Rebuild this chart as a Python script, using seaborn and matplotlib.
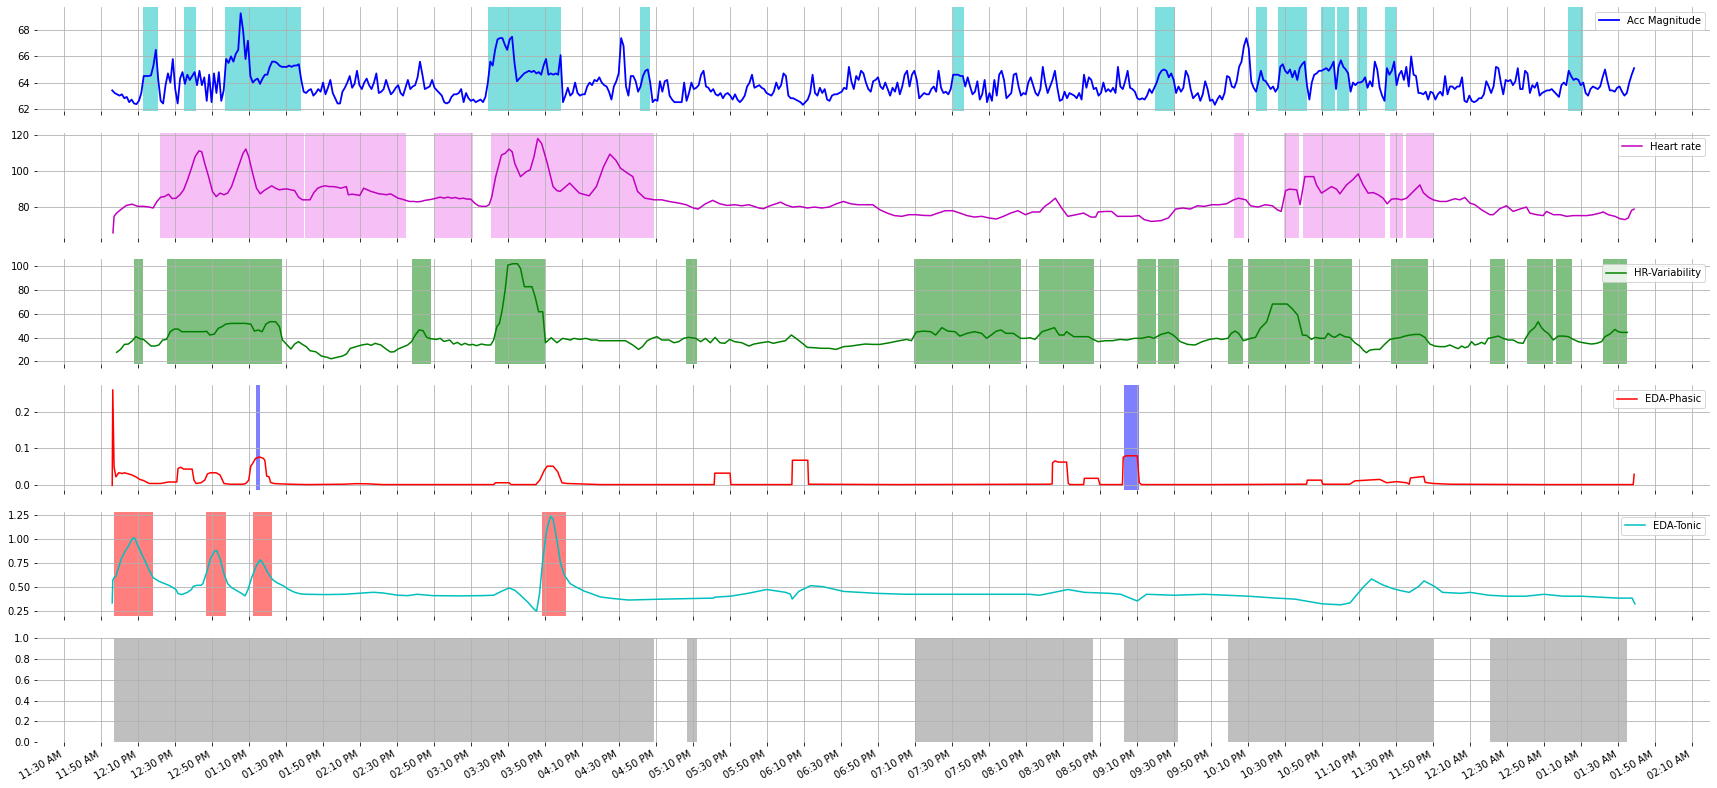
import numpy as np
import pandas as pd
import matplotlib
matplotlib.use("Agg")
import matplotlib.pyplot as plt
import matplotlib.dates as mdates
import seaborn as sns

# ---------------- data (time = minutes after 11:30 AM) ----------------
BASE = pd.Timestamp("2021-01-01 11:30:00")

# Acc magnitude: regularly sampled, start minute and sampling step (minutes)
ACC_START_MIN = 25.9
ACC_STEP_MIN = 1.31
ACC_VAL = [
    63.4, 63.2, 63.1, 63.0, 63.1, 62.8, 62.9, 62.5, 62.7, 62.4,
    62.35, 62.6, 63.2, 64.5, 64.5, 64.5, 64.55, 65.3, 66.5, 64.2,
    62.6, 62.4, 63.8, 64.7, 64.0, 65.8, 63.5, 62.4, 64.3, 64.8,
    63.9, 64.6, 64.2, 64.5, 64.8, 63.8, 64.9, 63.8, 64.4, 62.6,
    64.6, 62.5, 64.7, 63.2, 64.8, 62.6, 63.4, 65.8, 65.5, 66.0,
    65.6, 66.2, 66.5, 69.3, 68.0, 65.8, 67.2, 64.5, 64.0, 64.2,
    64.3, 63.9, 64.3, 64.6, 64.6, 65.2, 65.6, 65.6, 65.5, 65.3,
    65.2, 65.2, 65.2, 65.3, 65.2, 65.3, 65.3, 65.4, 64.2, 63.3,
    63.2, 63.4, 63.5, 63.0, 63.2, 63.5, 63.3, 64.0, 63.1, 63.6,
    64.2, 63.2, 62.8, 62.4, 62.4, 63.3, 63.6, 64.0, 64.5, 63.6,
    63.9, 64.9, 63.8, 63.5, 64.0, 64.3, 63.8, 63.5, 64.0, 64.7,
    63.2, 63.3, 63.5, 64.2, 63.6, 63.1, 63.3, 63.6, 63.8, 63.2,
    63.0, 63.6, 64.2, 63.5, 63.7, 63.8, 64.4, 65.6, 64.6, 63.5,
    63.6, 63.7, 64.2, 63.6, 63.4, 63.2, 63.0, 62.5, 62.4, 62.5,
    62.9, 63.1, 63.1, 63.2, 63.5, 62.5, 63.2, 62.8, 62.6, 62.7,
    62.5, 62.6, 62.7, 62.5, 62.9, 64.0, 65.6, 65.3, 66.5, 67.3,
    67.4, 67.4, 66.9, 66.5, 67.3, 67.5, 65.5, 64.1, 64.3, 64.5,
    64.7, 64.8, 64.9, 64.8, 64.9, 64.7, 64.8, 64.6, 65.3, 65.8,
    64.6, 64.7, 64.6, 64.7, 64.6, 66.1,
    62.5, 63.0, 63.6, 63.0, 63.2, 64.0, 63.2, 63.0, 63.1, 63.1,
    63.7, 64.0, 63.8, 64.2, 64.1, 64.4, 64.0, 63.8, 63.7, 63.3,
    62.7, 63.7, 64.1, 64.7, 67.4, 66.8, 63.7, 63.0, 64.5, 64.5,
    64.1, 63.3, 63.7, 64.5, 64.9, 65.0, 64.0, 62.5, 62.7, 62.6,
    64.1, 63.3, 64.1, 64.2, 63.0, 62.7, 62.5, 62.5, 62.5, 62.5,
    64.0, 62.6, 63.2, 64.0, 63.5, 63.6, 63.8, 64.6, 64.9, 63.7,
    63.6, 63.3, 63.5, 63.1, 63.0, 63.2, 62.8, 63.1, 63.2, 63.0,
    62.7, 63.1, 62.7, 62.5, 62.7, 63.0, 63.7, 64.0, 64.6, 63.6,
    63.7, 63.8, 63.6, 63.5, 63.2, 63.1, 63.0, 63.3, 64.0, 63.5,
    63.8, 64.7, 64.5, 63.0, 62.8, 62.8, 62.7, 62.6, 62.5, 62.3,
    62.5, 62.7, 63.2, 64.6, 63.2, 63.0, 63.6, 63.2, 63.5, 62.7,
    62.6, 63.0, 63.1, 63.1, 63.2, 63.3, 63.6, 63.5, 65.2, 64.1,
    63.5, 64.5, 64.2, 64.9, 64.7, 64.0, 63.5, 63.3, 64.1, 64.2,
    64.4, 63.7, 63.5, 64.0, 63.5, 63.0, 63.6, 63.3, 64.0, 63.1,
    63.7, 64.6, 64.9, 63.7, 64.6, 64.9, 64.2, 62.8, 63.0, 63.2,
    63.1, 63.1, 63.5, 63.7, 63.3, 64.9, 63.6, 63.2, 63.3, 63.1,
    63.5, 64.6, 64.6, 64.6, 64.5, 64.5, 63.7, 64.4, 63.7, 63.1,
    63.3, 64.1, 62.7, 63.1, 64.2, 62.5, 63.2, 62.6, 64.2, 63.0,
    64.6, 64.9, 64.2, 62.8, 63.0, 63.2, 64.6, 64.7, 63.7, 63.0,
    63.2, 63.1, 64.0, 64.4, 63.8, 63.2, 63.0, 63.5, 65.2, 64.0,
    63.2, 63.7, 64.2, 64.9, 63.6, 62.6, 62.7, 63.3, 62.8, 63.2,
    63.1, 63.0, 62.8, 63.2, 62.7, 64.6, 63.6, 64.4, 64.2, 63.5,
    63.6, 63.0, 63.2, 64.0, 63.3, 63.5, 63.3, 63.6, 63.2, 65.2,
    63.7, 63.5, 64.1, 64.9, 63.6, 63.5, 63.3, 62.8, 62.7, 62.8,
    62.7, 63.0, 63.5, 63.2, 63.6, 64.0, 64.6, 64.9, 65.0, 64.9,
    64.4, 64.7, 64.2, 63.2, 63.7, 63.3, 63.6, 64.9, 64.5, 63.5,
    62.8, 63.0, 63.2, 62.6, 63.1, 64.1, 63.5, 62.6, 62.7, 62.3,
    62.7, 63.0, 62.7, 63.2, 64.5, 64.4, 63.7, 63.6, 64.1, 65.2,
    65.6, 66.8, 67.4, 66.6, 64.1, 63.6, 63.3, 64.1, 64.9, 64.2,
    64.1, 63.8, 63.5, 63.7, 63.3, 63.6, 65.2, 65.4, 64.9, 64.7,
    65.0, 64.4, 64.9, 64.2, 65.1, 65.4, 65.6, 63.8, 62.7, 64.0,
    64.6, 64.7, 64.9,
    64.9, 65.0, 65.1, 64.9, 65.2, 65.6, 63.5, 65.2, 65.7, 65.2,
    65.0, 64.7, 63.3, 64.0, 63.8, 64.0, 64.0, 64.1, 64.4, 63.6,
    64.1, 63.7, 65.6, 65.0, 63.6, 63.0, 62.6, 65.1, 64.6, 64.9,
    65.6, 63.8, 64.6, 64.9, 64.2, 65.2, 63.7, 66.0, 64.6, 64.5,
    63.2, 63.2, 63.1, 63.3, 62.7, 63.3, 63.2, 62.7, 63.1, 63.3,
    63.0, 64.5, 63.1, 63.7, 63.7, 63.5, 63.7, 63.7, 64.4, 62.6,
    62.5, 63.0, 62.6, 62.5, 62.6, 62.8, 62.8, 63.1, 64.1, 63.7,
    63.2, 63.7, 65.2, 65.1, 64.0, 63.1, 64.2, 64.1, 64.2, 63.8,
    64.1, 65.1, 63.5, 63.5, 64.9, 64.7, 63.2, 63.8, 63.6, 64.0,
    63.0, 63.2, 63.3, 63.4, 63.4, 63.5, 63.3, 63.1, 62.9, 63.8,
    64.0, 63.8, 64.9, 64.5, 64.2, 64.3, 64.2, 63.8, 64.0, 63.2,
    63.0, 63.5, 63.7, 63.6, 63.5, 63.7, 64.4, 65.0, 64.1, 63.4,
    63.4, 63.3, 63.6, 63.7, 63.3, 63.0, 63.2, 64.0, 64.6, 65.1,
]

HR_MIN = [
    26.3, 26.9, 28.3, 30.4, 33.5, 36.6, 39.7, 42.8, 45.9, 48.0, 50.1, 52.1, 54.2, 56.3, 58.3,
    60.4, 62.5, 64.5, 66.6, 68.7, 70.7, 72.8, 74.3, 75.9, 78.0, 80.1, 82.1, 84.2, 86.3, 88.3,
    90.4, 93.5, 96.6, 98.1, 99.7, 101.8, 103.9, 105.9, 108.0, 110.1, 112.1, 114.2, 116.3, 118.3,
    120.4, 122.5, 124.5, 126.6, 128.7, 130.8, 132.8, 134.9, 137.0, 139.0, 141.1, 143.2, 145.2,
    147.3, 149.4, 151.4, 152.5, 153.5, 155.6, 157.7, 159.7, 161.8, 163.9, 165.9, 168.0, 170.1,
    172.1, 174.2, 176.3, 178.3, 180.4, 182.5, 184.6, 186.6, 188.7, 190.8, 192.8, 194.9, 197.0,
    199.0, 201.1, 203.2, 205.2, 207.3, 209.4, 211.4, 213.5, 215.6, 217.7, 219.7, 221.8, 223.9,
    225.9, 228.0, 229.7, 231.1, 233.2, 236.3, 238.3, 240.4, 242.1, 243.5, 246.6, 249.7, 251.8,
    253.9, 255.9, 258.0, 261.1, 264.2, 266.3,
    268.0, 273.2, 278.4, 283.7, 287.6, 291.5, 294.9, 298.1, 300.7, 304.6, 307.3, 309.9, 313.8,
    319.0, 323.0, 326.9, 332.1, 336.1, 340.0, 342.6, 346.6, 350.5, 354.4, 358.3, 362.3, 366.2,
    370.1, 372.8, 375.4, 378.0, 380.6, 383.2, 387.2, 389.8, 393.7, 397.6, 401.6, 405.5, 409.4,
    413.4, 417.3, 421.2, 425.2, 429.1, 433.0, 437.0, 440.9, 444.8, 448.7, 452.7, 456.6, 460.5,
    464.5, 468.4, 472.3, 476.2, 480.2, 484.1, 488.0, 492.0, 495.9, 499.8, 503.8, 507.7, 511.6,
    515.5, 519.5, 523.4, 527.3, 530.0, 532.6, 535.7, 539.1, 542.5, 547.0, 551.0, 554.9, 557.5,
    558.8, 562.7, 566.1, 569.3, 573.2, 577.1, 581.0, 583.7, 587.6, 592.8, 596.8, 600.7, 604.6,
    608.6, 612.5, 616.4, 620.3, 624.3, 628.2, 632.1, 634.8, 638.7, 641.3, 645.2, 649.2, 653.1,
    655.7, 657.8, 660.2, 662.3, 666.2, 668.0, 670.6, 675.4,
    676.9, 679.6, 682.3, 685.0, 687.7, 689.5, 693.1, 696.7, 699.4, 702.1, 704.8, 707.5, 710.2,
    712.9, 715.1, 717.5, 720.2, 722.9, 725.6, 729.2, 732.8, 734.6, 737.3, 740.0, 743.6, 747.2,
    751.7, 754.4, 757.1, 759.8, 762.5, 766.1, 770.6, 772.4, 776.0, 779.6, 783.2, 786.8, 790.4,
    792.2, 795.8, 799.4, 801.2, 804.9, 808.5, 812.1, 815.7, 819.3, 822.9, 826.5, 830.1, 831.9,
    834.6, 838.2, 840.9, 843.6, 845.4, 847.2, 848.6,
]
HR_VAL = [
    65.8, 74.9, 76.7, 78.5, 80.9, 81.6, 80.4, 80.4, 80.0, 79.5, 83.1, 85.5, 85.8, 87.1, 84.7,
    84.9, 86.8, 89.5, 95.0, 101.4, 107.8, 111.0, 110.5, 104.1, 96.8, 88.6, 85.8, 87.7, 86.8, 87.7,
    91.3, 100.5, 109.6, 112.0, 107.8, 98.6, 90.4, 87.3, 89.1, 90.4, 91.7, 90.4, 89.5, 89.9,
    90.0, 89.5, 89.1, 85.5, 84.0, 84.0, 84.0, 88.0, 90.4, 91.3, 91.7, 91.3, 91.3,
    91.0, 90.4, 91.0, 91.3, 86.8, 87.1, 86.8, 86.4, 90.4, 89.5, 88.6, 88.0, 87.3,
    87.1, 86.8, 87.3, 86.2, 84.9, 84.4, 83.7, 83.1, 83.1, 82.9, 83.1, 83.7, 84.0,
    84.4, 84.9, 85.5, 84.9, 85.5, 84.9, 85.3, 84.6, 84.9, 84.4, 84.4, 82.2, 80.7,
    80.4, 80.4, 81.3, 85.8, 96.8, 108.7, 109.6, 112.0, 110.5, 104.1, 96.8, 99.5, 100.5,
    107.8, 117.8, 115.1, 104.1, 91.3, 89.1,
    88.6, 93.2, 87.7, 86.2, 91.3, 102.3, 109.2, 105.9, 101.4, 98.6, 96.8, 88.6, 84.9,
    84.0, 84.0, 83.1, 82.2, 81.3, 79.5, 78.9, 81.8, 83.7, 81.8, 80.9, 81.3, 80.7,
    81.3, 80.4, 79.5, 79.1, 80.4, 81.3, 82.7, 81.3, 80.0, 80.4, 79.5, 80.0, 79.5,
    80.0, 81.8, 83.1, 81.8, 81.3, 81.3, 81.3, 78.5, 76.7, 75.3, 74.9, 75.8, 75.8,
    75.4, 75.3, 76.7, 78.0, 78.0, 76.7, 75.3, 74.5, 74.9, 74.0, 73.4, 74.9, 76.7,
    78.0, 75.8, 77.3, 77.3, 80.4, 82.2, 84.9, 79.5, 74.9, 75.8, 76.7, 74.5, 74.5,
    77.3, 77.6, 77.6, 74.9, 74.9, 74.9, 75.3, 73.1, 72.1, 72.5, 74.0, 78.9, 79.5,
    78.9, 80.7, 80.4, 81.3, 81.3, 81.8, 84.0, 84.9, 84.0, 80.7, 80.0, 81.3, 80.7,
    78.5, 77.6, 89.1, 89.9, 89.5, 81.3, 96.8, 96.8,
    92.2, 87.7, 89.5, 91.3, 89.9, 87.3, 92.2, 95.3, 98.3, 92.2, 87.7, 88.0, 86.8,
    84.9, 81.8, 84.4, 84.6, 84.0, 84.9, 88.6, 92.2, 88.0, 85.5, 84.0, 83.1, 83.1,
    84.6, 84.0, 85.3, 82.2, 81.3, 78.5, 75.8, 75.8, 79.1, 80.7, 77.6, 78.9, 80.0,
    76.7, 75.8, 75.3, 77.6, 75.8, 75.8, 74.9, 75.3, 75.3, 75.3, 75.8, 76.7, 77.3,
    75.8, 74.9, 73.6, 73.1, 74.0, 78.2, 78.9,
]

HRV_MIN = [
    28.3, 30.4, 32.5, 34.6, 36.6, 38.7, 40.8, 42.8, 44.9, 46.9, 49.0, 51.1, 53.2, 55.2, 57.3,
    59.4, 61.5, 63.5, 66.6, 70.7, 74.9, 77.0, 78.6, 81.1, 83.2, 85.2, 87.3, 90.4, 93.5, 97.7,
    100.8, 102.8, 104.9, 106.9, 109.0, 111.1, 114.2, 116.3, 117.9, 120.0, 122.5, 124.5, 126.6,
    128.7, 130.8, 132.8, 135.9, 139.0, 142.1, 144.2, 147.3, 150.4, 152.5, 154.6, 157.7, 160.8,
    163.9, 165.9, 168.0, 171.1, 174.2, 176.3, 178.3, 180.4, 183.5, 185.6, 187.7, 189.7, 191.8,
    193.9, 195.9, 198.0, 201.1, 203.2, 205.2, 208.3, 210.4, 212.5, 214.6, 216.6, 218.7, 220.8,
    222.8, 225.5, 228.0, 230.5, 232.1, 233.8, 235.2, 236.7, 238.3, 239.8, 242.5, 245.0, 246.6,
    248.7, 252.8, 254.5, 256.4, 258.6, 260.1, 263.2, 266.3, 269.4, 273.5, 275.6, 278.7, 281.8,
    284.9, 288.0,
    289.0, 294.2, 299.4, 303.3, 307.3, 310.4, 312.5, 315.1, 317.7, 320.4, 323.0, 326.9, 329.5,
    332.1, 334.8, 337.4, 341.3, 344.0, 346.6, 349.2, 351.8, 354.4, 357.0, 359.7, 362.3, 366.2,
    370.1, 372.8, 376.7, 380.6, 383.2, 387.2, 389.8, 393.0, 396.3, 399.0, 401.6, 405.5, 409.4,
    413.4, 417.3, 421.2, 425.2, 429.1, 433.0, 437.0, 440.9, 446.1, 451.4, 455.3, 457.9, 460.5,
    464.5, 468.4, 471.0, 474.4, 477.6, 481.5, 484.1, 488.0, 492.0, 495.9, 498.5, 501.1, 503.8,
    506.4, 509.0, 513.0, 516.9, 519.5, 522.1, 524.7, 528.6, 531.3, 535.2, 537.8, 540.4, 541.7,
    545.7, 549.6, 553.5, 556.2, 558.8, 562.7, 566.6, 570.6, 574.5, 578.4, 582.4, 586.3, 588.9,
    592.8, 596.8, 599.4, 603.3, 607.2, 611.2, 615.1, 619.0, 623.0, 625.6, 629.0, 630.8, 632.9,
    634.8, 637.4, 641.3, 643.9, 646.5, 650.0, 653.1, 661.0, 663.6, 666.7,
    669.3, 671.5, 674.2, 676.0, 678.7, 681.4, 683.2, 685.0, 686.8, 689.5, 692.2, 694.9, 697.6,
    700.3, 702.1, 703.9, 705.7, 708.4, 711.1, 713.9, 716.6, 719.3, 722.0, 724.7, 727.4, 730.1,
    732.8, 735.5, 738.2, 740.9, 743.6, 746.3, 749.0, 751.7, 753.5, 755.3, 757.1, 758.9, 760.7,
    762.5, 764.3, 766.1, 767.9, 769.7, 772.4, 775.1, 777.8, 780.5, 783.2, 785.9, 788.6, 790.4,
    792.2, 794.9, 796.7, 798.5, 800.3, 802.1, 804.9, 807.6, 810.3, 813.0, 815.7, 818.4, 821.1,
    822.9, 825.6, 828.3, 831.0, 832.8, 835.5, 838.2, 840.0, 841.8, 843.6, 844.9,
]
HRV_VAL = [
    27.6, 30.1, 34.3, 34.6, 37.1, 40.8, 39.1, 38.5, 35.7, 32.9, 32.9, 33.8, 38.0, 38.5, 45.0,
    47.2, 47.2, 45.0, 45.0, 45.0, 45.0, 45.3, 42.2, 43.0, 47.8, 49.2, 51.4, 52.0, 52.0, 52.0,
    51.4, 45.5, 46.4, 45.0, 51.4, 53.4, 53.4, 49.2, 38.0, 34.6, 30.4, 34.6, 36.6,
    34.3, 32.4, 29.0, 28.1, 24.5, 23.4, 22.2, 23.4, 24.5, 26.2, 30.9, 32.4, 33.8,
    34.6, 33.5, 35.2, 33.8, 30.1, 27.9, 28.1, 30.4, 32.4, 33.8, 36.6, 42.2, 46.4,
    45.9, 40.2, 39.1, 38.5, 39.4, 36.8, 38.0, 34.6, 36.0, 33.8, 35.2, 33.8, 34.3,
    33.2, 34.6, 33.8, 33.8, 38.0, 49.2, 52.0, 63.2, 80.1, 101.1, 102.2, 102.2, 98.3,
    82.9, 82.9, 74.5, 61.8, 61.8, 35.7, 39.9, 35.7, 39.4, 38.0, 39.4, 38.5, 39.4,
    38.0, 38.0,
    37.4, 37.4, 37.4, 37.4, 33.8, 30.1, 32.4, 37.4, 39.4, 40.8, 38.0, 38.0, 35.7,
    36.6, 39.4, 40.2, 39.4, 36.6, 39.4, 35.7, 40.2, 35.7, 35.2, 38.5, 36.6, 35.7,
    32.9, 34.6, 35.7, 36.6, 35.2, 36.6, 37.4, 42.2, 38.5, 35.2, 31.8, 31.5, 31.0,
    31.0, 30.1, 32.4, 32.9, 33.8, 34.6, 34.3, 34.3, 35.7, 37.4, 38.5, 37.4, 44.7,
    45.5, 45.0, 42.2, 48.4, 45.5, 45.0, 41.3, 43.6, 45.0, 43.6, 39.4, 42.2, 45.5,
    46.4, 43.6, 43.6, 39.4, 39.4, 39.9, 38.5, 45.0, 46.4, 48.4, 42.2, 42.2, 45.0,
    40.8, 40.8, 40.8, 38.5, 36.6, 37.4, 37.4, 38.5, 38.0, 39.4, 39.4, 40.8, 39.4,
    42.7, 44.4, 42.2, 36.6, 34.3, 33.8, 36.6, 38.5, 39.4, 38.5, 39.4, 43.6, 45.5,
    43.6, 37.4, 39.4, 40.2, 47.8, 53.4, 68.3, 68.3, 64.6, 59.0,
    42.2, 41.9, 38.5, 40.2, 39.4, 39.4, 43.6, 41.3, 40.2, 43.0, 40.8, 40.2, 35.7,
    32.9, 29.5, 27.3, 29.5, 30.1, 30.1, 34.6, 38.5, 39.4, 39.9, 41.3, 42.2, 42.7,
    42.7, 40.2, 34.6, 32.9, 32.4, 32.4, 33.8, 31.8, 30.7, 32.9, 31.5, 32.4, 36.6,
    33.8, 34.6, 36.0, 34.6, 39.4, 40.2, 41.3, 39.4, 38.0, 38.0, 35.7, 35.2, 40.8,
    45.0, 48.6, 53.4, 48.4, 45.5, 43.6, 38.0, 41.3, 41.3, 40.8, 38.5, 36.6, 35.7,
    35.2, 34.6, 35.2, 36.6, 40.8, 43.0, 46.9, 45.0, 44.4, 44.4, 44.4,
]

PHASIC_MIN = [
    25.9, 26.2, 26.9, 27.9, 29.4, 31.4, 32.5, 34.6, 36.6, 38.7, 40.8, 42.8, 45.9, 48.0, 52.1,
    55.2, 56.3, 60.8, 61.5, 62.9, 64.5, 69.1, 70.1, 71.2, 73.9, 75.9, 77.4, 79.0, 82.1, 84.2,
    86.3, 89.4, 96.6, 98.1, 99.7, 100.8, 101.8, 103.4, 105.5, 107.6, 108.4, 109.4, 110.7, 111.5,
    113.2, 116.3, 122.5, 130.8, 151.4, 157.7, 163.9, 172.1, 192.8, 213.5, 232.1, 233.2, 240.4,
    241.5, 254.9, 257.0, 259.5, 261.1, 264.2, 266.7, 269.0, 271.5, 277.7, 289.7,
    320.0, 351.3, 351.6, 359.9, 360.3, 393.3, 393.6, 401.9, 402.3, 450.0,
    532.8, 534.0, 534.2, 535.5, 537.3, 541.8, 542.7, 543.6, 551.0, 551.4, 558.9, 559.8, 572.0,
    572.4, 573.9, 580.0, 581.1, 582.4, 620.0, 667.9, 671.5, 671.9, 679.6, 680.2, 694.9, 697.6,
    703.9, 711.1, 714.8, 720.2, 725.6, 727.0, 727.7, 734.9, 735.6, 740.0, 749.0, 800.0, 848.1,
    848.6,
]
PHASIC_VAL = [
    0.0, 0.259, 0.050, 0.023, 0.034, 0.032, 0.034, 0.031, 0.028, 0.023, 0.016, 0.013, 0.005,
    0.005, 0.005, 0.008, 0.009, 0.009, 0.046, 0.049, 0.044, 0.044, 0.014, 0.005, 0.007, 0.014,
    0.031, 0.034, 0.034, 0.028, 0.005, 0.003, 0.003, 0.005, 0.014, 0.052, 0.059, 0.073, 0.077,
    0.073, 0.068, 0.025, 0.023, 0.008, 0.005, 0.004, 0.003, 0.002, 0.003, 0.0045, 0.004, 0.002,
    0.002, 0.002, 0.002, 0.007, 0.007, 0.002, 0.002, 0.014, 0.041, 0.052, 0.052, 0.037, 0.007,
    0.005, 0.004, 0.002,
    0.002, 0.002, 0.033, 0.033, 0.002, 0.002, 0.068, 0.068, 0.003, 0.002,
    0.003, 0.004, 0.061, 0.066, 0.063, 0.063, 0.005, 0.002, 0.002, 0.019, 0.019, 0.002, 0.002,
    0.076, 0.080, 0.080, 0.007, 0.002, 0.002, 0.003, 0.003, 0.014, 0.014, 0.003, 0.003, 0.012,
    0.014, 0.016, 0.007, 0.010, 0.007, 0.003, 0.020, 0.024, 0.008, 0.005, 0.003, 0.002, 0.002,
    0.030,
]

TONIC_MIN = [
    25.9, 26.2, 26.9, 27.9, 29.4, 31.0, 33.1, 34.6, 36.0, 37.2, 38.3, 39.7, 41.8, 43.9, 45.9,
    48.0, 51.1, 54.2, 57.3, 60.4, 61.5, 63.5, 66.6, 68.7, 69.7, 71.8, 73.9, 74.9, 77.0, 79.0,
    81.1, 82.3, 84.2, 86.3, 88.3, 90.4, 93.5, 96.0, 97.7, 99.3, 101.4, 103.9, 105.9, 108.0,
    110.1, 112.6, 115.2, 118.3, 121.4, 124.5, 127.7, 130.8, 141.1, 151.4, 161.8, 167.0, 172.1,
    180.4, 185.6, 190.8, 199.0, 213.5, 225.9, 232.1, 236.3, 240.4, 243.5, 246.6, 250.8, 253.9,
    255.3, 256.9, 258.6, 260.7, 262.8, 264.2, 266.3, 268.3, 270.4, 273.5, 276.6, 280.8, 284.9,
    289.7,
    296.8, 305.0, 315.0, 325.0, 338.3, 351.0, 351.5, 360.0, 369.6, 379.7, 390.0, 392.5, 393.5,
    397.0, 403.4, 410.0, 421.2, 438.9, 455.0, 468.5, 498.1, 521.8, 527.0, 535.0, 542.5, 551.4,
    565.0, 571.0, 580.0, 585.0, 600.0, 616.5, 640.0, 655.0, 665.0, 680.0, 690.0, 695.0, 702.4,
    706.6, 712.5, 718.0, 722.0, 727.0, 732.0, 735.0, 740.9, 745.0, 755.0, 760.0, 770.0, 780.0,
    790.0, 800.0, 810.0, 820.0, 830.0, 840.0, 847.5, 849.0,
]
TONIC_VAL = [
    0.33, 0.566, 0.594, 0.608, 0.705, 0.80, 0.878, 0.92, 0.976, 1.01, 1.0, 0.93, 0.844, 0.757,
    0.67, 0.594, 0.556, 0.531, 0.507, 0.469, 0.427, 0.417, 0.441, 0.469, 0.503, 0.514, 0.514,
    0.531, 0.653, 0.792, 0.868, 0.878, 0.792, 0.635, 0.531, 0.49, 0.455, 0.427, 0.403, 0.469,
    0.60, 0.722, 0.781, 0.722, 0.642, 0.573, 0.538, 0.51, 0.469, 0.441, 0.424, 0.42, 0.417,
    0.42, 0.434, 0.441, 0.434, 0.41, 0.406, 0.42, 0.406, 0.403, 0.406, 0.41, 0.451, 0.486,
    0.462, 0.41, 0.333, 0.264, 0.243, 0.427, 0.774, 1.087, 1.233, 1.208, 0.983, 0.74, 0.618,
    0.531, 0.497, 0.455, 0.427, 0.392,
    0.375, 0.36, 0.365, 0.37, 0.375, 0.38, 0.39, 0.40, 0.43, 0.47, 0.44, 0.42, 0.37,
    0.45, 0.51, 0.50, 0.45, 0.43, 0.42, 0.42, 0.42, 0.42, 0.41, 0.44, 0.47, 0.44,
    0.43, 0.42, 0.35, 0.42, 0.41, 0.42, 0.40, 0.38, 0.37, 0.32, 0.31, 0.33, 0.50,
    0.58, 0.52, 0.48, 0.46, 0.44, 0.50, 0.56, 0.50, 0.44, 0.43, 0.44, 0.41, 0.40,
    0.40, 0.42, 0.40, 0.40, 0.39, 0.38, 0.38, 0.32,
]

# highlighted intervals (start, end) in minutes after 11:30 AM
ACC_SPANS = [(42.5, 50.5), (64.7, 71.0), (86.9, 127.8), (229.0, 268.3), (311.2, 316.4),
             (480.2, 486.2), (589.7, 600.2), (644.2, 650.0), (656.0, 671.9), (679.5, 686.7),
             (688.0, 694.4), (698.9, 704.0), (713.9, 719.7), (813.0, 820.8)]
HR_SPANS = [(51.7, 129.3), (130.1, 184.6), (200.4, 220.7), (230.6, 318.5), (632.4, 637.9),
            (659.1, 667.5), (669.7, 713.9), (716.6, 723.4), (725.2, 740.4)]
HRV_SPANS = [(37.7, 42.6), (55.6, 117.5), (188.0, 198.0), (232.9, 260.0), (336.1, 341.8),
             (459.2, 516.9), (526.8, 556.4), (580.3, 590.0), (591.3, 602.3), (629.0, 637.4),
             (640.0, 673.2), (675.5, 695.9), (717.1, 737.0), (770.6, 778.8), (790.6, 804.9),
             (806.3, 815.0), (831.7, 844.7)]
PHASIC_SPANS = [(103.6, 105.7), (572.8, 580.7)]
TONIC_SPANS = [(26.9, 48.0), (76.5, 87.5), (102.0, 112.3), (258.2, 271.2)]
ALL_SPANS = [(26.9, 318.8), (336.5, 341.8), (459.6, 556.2), (572.8, 601.8), (629.0, 740.0),
             (770.7, 844.6)]

LABELS = ["Acc Magnitude", "Heart rate", "HR-Variability", "EDA-Phasic", "EDA-Tonic"]
YTICKS = [[62, 64, 66, 68], [80, 100, 120], [20, 40, 60, 80, 100], [0.0, 0.1, 0.2],
          [0.25, 0.5, 0.75, 1.0, 1.25], [0.0, 0.2, 0.4, 0.6, 0.8, 1.0]]
YLIMS = [(61.8, 69.8), (63.2, 120.9), (18.0, 106.1), (-0.0126, 0.271), (0.191, 1.285), (0.0, 1.0)]
XLIM_MIN = (-14.76, 889.6)
LINE_WIDTHS = [1.8, 1.5, 1.5, 1.5, 1.5]


def to_time(minutes):
    return [(BASE + pd.Timedelta(minutes=float(m))).to_pydatetime() for m in minutes]


acc_minutes = ACC_START_MIN + ACC_STEP_MIN * np.arange(len(ACC_VAL))
series = [
    (to_time(acc_minutes), ACC_VAL, "b", ACC_SPANS, "c"),
    (to_time(HR_MIN), HR_VAL, "m", HR_SPANS, "violet"),
    (to_time(HRV_MIN), HRV_VAL, "g", HRV_SPANS, "g"),
    (to_time(PHASIC_MIN), PHASIC_VAL, "r", PHASIC_SPANS, "b"),
    (to_time(TONIC_MIN), TONIC_VAL, "c", TONIC_SPANS, "r"),
]

# ---------------- figure ----------------
DPI = 72
fig, axes = plt.subplots(6, 1, figsize=(1717 / DPI, 788 / DPI), dpi=DPI, sharex=True)

for i, (t, v, lc, spans, sc) in enumerate(series):
    ax = axes[i]
    for s, e in spans:
        st, en = to_time([s, e])
        ax.axvspan(st, en, color=sc, alpha=0.5, lw=0)
    sns.lineplot(x=t, y=v, ax=ax, color=lc, label=LABELS[i], linewidth=LINE_WIDTHS[i],
                 estimator=None)
    ax.legend(loc="upper right")

ax = axes[5]
for s, e in ALL_SPANS:
    st, en = to_time([s, e])
    ax.axvspan(st, en, color="gray", alpha=0.5, lw=0)

for i, ax in enumerate(axes):
    ax.set_ylim(*YLIMS[i])
    ax.set_yticks(YTICKS[i])
    ax.grid(True)
    for sp in ax.spines.values():
        sp.set_visible(False)
    ax.set_xlabel("")
    ax.set_ylabel("")

x0, x1 = to_time(XLIM_MIN)
axes[-1].set_xlim(x0, x1)
axes[-1].xaxis.set_major_locator(mdates.MinuteLocator(byminute=[10, 30, 50]))
axes[-1].xaxis.set_major_formatter(mdates.DateFormatter("%I:%M %p"))
fig.autofmt_xdate(bottom=0.05787)
fig.subplots_adjust(left=0.02155, right=0.99592, top=0.9915, bottom=0.05787, hspace=0.2063)

fig.savefig("out.png", dpi=DPI)
